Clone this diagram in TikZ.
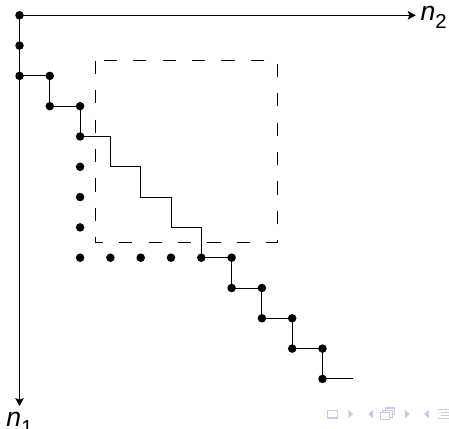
\documentclass[tikz,border=0pt]{standalone}
\usepackage{fontspec}
\setmainfont{Liberation Sans}
\usetikzlibrary{arrows.meta}
\definecolor{navcol}{RGB}{200,200,236}
\tikzset{dot/.style={circle,fill,inner sep=0pt,minimum size=4pt}}
\tikzset{nav/.style={navcol,line width=0.5pt}}
\newcommand{\axlab}[1]{\fontsize{12.5}{14}\selectfont\textit{n}\raisebox{-0.6ex}{\fontsize{9.5}{10}\selectfont #1}}

\begin{document}
\begin{tikzpicture}[x=0.5cm,y=-0.5cm,>={Stealth[length=3.8pt,width=4pt,inset=0.8pt]}]
\useasboundingbox (-0.644,-0.505) rectangle (14.175,13.653);

% lattice points
\foreach \x/\y [count=\i] in {0/0,0/1,0/2,1/2,1/3,2/3,2/4,2/5,2/6,2/7,2/8,3/8,4/8,5/8,6/8,
  7/8,7/9,8/9,8/10,9/10,9/11,10/11,10/12}
  \node[dot] (d\i) at (\x,\y) {};

% axes
\coordinate (xend) at (13.08,0);
\coordinate (yend) at (0,12.9);
\draw[->] (d1.center) -- (xend);
\draw[->] (d1.center) -- (yend);
\node[anchor=west,inner sep=0pt,xshift=2pt,yshift=-1pt] (n2) at (xend) {\axlab{2}};
\node[anchor=north,inner sep=0pt,yshift=-2.5pt] (n1) at (yend) {\axlab{1}};

% box
\draw[dash pattern=on 6.2pt off 7.6pt] (2.5,1.5) rectangle (8.5,7.5);

% staircase
\coordinate (c1) at (3,4);
\coordinate (c2) at (3,5);
\coordinate (c3) at (4,5);
\coordinate (c4) at (4,6);
\coordinate (c5) at (5,6);
\coordinate (c6) at (5,7);
\coordinate (c7) at (6,7);
\coordinate (tail) at (11,12);
\draw (d3.center) -- (d4.center) -- (d5.center) -- (d6.center) -- (d7.center)
  -- (c1) -- (c2) -- (c3) -- (c4) -- (c5) -- (c6) -- (c7) -- (d15.center);
\draw (d15.center) -- (d16.center) -- (d17.center) -- (d18.center) -- (d19.center)
  -- (d20.center) -- (d21.center) -- (d22.center) -- (d23.center) -- (tail);

% navigation symbols
\draw[nav] (10.15,13.03) rectangle (10.48,13.29);
\fill[navcol] (10.85,13.02) -- (11.01,13.16) -- (10.85,13.30) -- cycle;
\fill[navcol] (11.67,13.02) -- (11.51,13.16) -- (11.67,13.30) -- cycle;
\draw[nav,fill=white] (12.08,12.96) rectangle (12.39,13.18);
\draw[nav,fill=white] (11.99,13.04) rectangle (12.30,13.26);
\draw[nav,fill=white] (11.90,13.12) rectangle (12.21,13.34);
\fill[navcol] (12.72,13.02) -- (12.88,13.16) -- (12.72,13.30) -- cycle;
\fill[navcol] (13.51,13.02) -- (13.35,13.16) -- (13.51,13.30) -- cycle;
\draw[nav] (13.81,13.02) -- (14.18,13.02);
\draw[nav] (13.90,13.12) -- (14.18,13.12);
\draw[nav] (13.90,13.21) -- (14.18,13.21);
\draw[nav] (13.81,13.30) -- (14.18,13.30);
\end{tikzpicture}
\end{document}
